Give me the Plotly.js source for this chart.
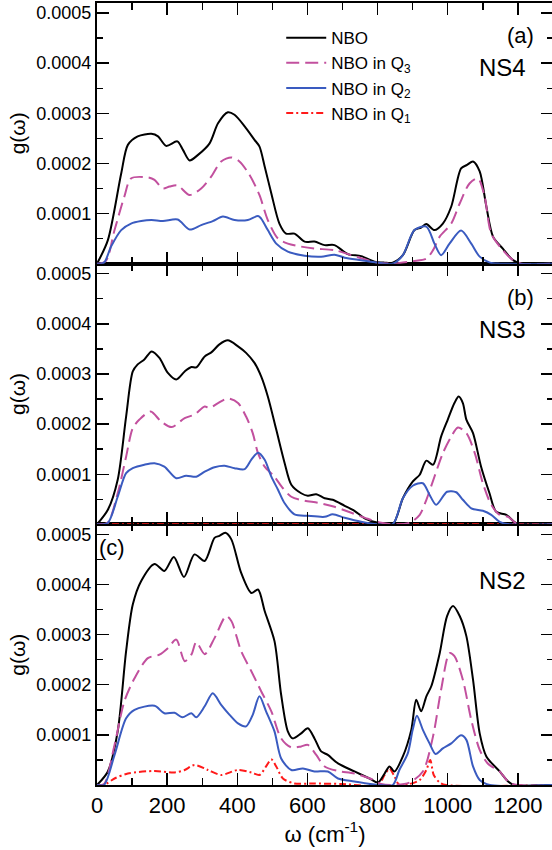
<!DOCTYPE html>
<html>
<head>
<meta charset="utf-8">
<script src="https://cdn.plot.ly/plotly-3.0.1.min.js"></script>
<style>
  html, body { margin: 0; padding: 0; overflow: hidden; background: #fff; }
  #chart { width: 555px; height: 850px; }
</style>
</head>
<body>
<div id="chart"></div>
<script>
// Vibrational density of states g(ω) of non-bridging oxygens (NBO),
// total and split by Q-species, for three glass compositions.

// ---- NS4 (panel a) ----
const ns4_nbo_w = [0, 31, 69, 88, 116, 155, 174, 197, 229, 245, 264, 288, 321, 345, 373, 392, 421, 449, 463, 478, 497, 520, 539, 563, 592, 620, 649, 677, 715, 753, 791, 820, 843, 872, 905, 924, 939, 962, 986, 1010, 1038, 1055, 1072, 1091, 1110, 1129, 1157, 1186, 1210, 1300];
const ns4_nbo_g = [0, 0.47e-4, 1.8e-4, 2.37e-4, 2.54e-4, 2.59e-4, 2.54e-4, 2.35e-4, 2.44e-4, 2.27e-4, 2.06e-4, 2.17e-4, 2.4e-4, 2.8e-4, 3.02e-4, 2.97e-4, 2.74e-4, 2.47e-4, 2.34e-4, 1.94e-4, 1.4e-4, 0.8e-4, 0.6e-4, 0.6e-4, 0.44e-4, 0.44e-4, 0.37e-4, 0.37e-4, 0.19e-4, 0.15e-4, 0.04e-4, 0.02e-4, 0.02e-4, 0.17e-4, 0.67e-4, 0.72e-4, 0.79e-4, 0.67e-4, 0.8e-4, 1.14e-4, 1.9e-4, 1.97e-4, 2.04e-4, 1.84e-4, 1.14e-4, 0.54e-4, 0.3e-4, 0.07e-4, 0, 0];
const ns4_q3_w = [0, 25, 50, 78, 97, 145, 164, 188, 207, 230, 264, 297, 326, 354, 383, 406, 435, 463, 487, 516, 544, 582, 620, 677, 725, 772, 800, 843, 900, 939, 958, 977, 1010, 1034, 1062, 1086, 1105, 1124, 1157, 1186, 1210, 1300];
const ns4_q3_g = [0, 0.05e-4, 0.67e-4, 1.34e-4, 1.7e-4, 1.72e-4, 1.67e-4, 1.5e-4, 1.54e-4, 1.56e-4, 1.37e-4, 1.5e-4, 1.74e-4, 2.04e-4, 2.12e-4, 2.04e-4, 1.77e-4, 1.37e-4, 0.87e-4, 0.5e-4, 0.4e-4, 0.34e-4, 0.3e-4, 0.27e-4, 0.17e-4, 0.07e-4, 0.02e-4, 0, 0.05e-4, 0.1e-4, 0.27e-4, 0.54e-4, 0.8e-4, 1.2e-4, 1.6e-4, 1.7e-4, 1.34e-4, 0.6e-4, 0.27e-4, 0.07e-4, 0, 0];
const ns4_q2_w = [0, 20, 40, 69, 97, 126, 155, 188, 230, 264, 297, 330, 359, 392, 430, 459, 468, 487, 511, 544, 592, 639, 677, 706, 753, 791, 843, 872, 905, 939, 962, 981, 1005, 1038, 1067, 1091, 1120, 1150, 1300];
const ns4_q2_g = [0, 0.02e-4, 0.34e-4, 0.67e-4, 0.8e-4, 0.85e-4, 0.87e-4, 0.85e-4, 0.88e-4, 0.68e-4, 0.77e-4, 0.85e-4, 0.94e-4, 0.87e-4, 0.87e-4, 0.95e-4, 0.9e-4, 0.67e-4, 0.4e-4, 0.24e-4, 0.16e-4, 0.14e-4, 0.18e-4, 0.12e-4, 0.07e-4, 0.03e-4, 0, 0.17e-4, 0.67e-4, 0.74e-4, 0.4e-4, 0.17e-4, 0.4e-4, 0.66e-4, 0.4e-4, 0.14e-4, 0.02e-4, 0, 0];

// ---- NS3 (panel b) ----
const ns3_nbo_w = [0, 31, 59, 83, 102, 116, 135, 156, 178, 202, 226, 250, 269, 283, 307, 326, 349, 373, 402, 425, 449, 468, 487, 511, 535, 554, 582, 601, 625, 649, 672, 706, 734, 763, 801, 843, 872, 900, 920, 939, 958, 981, 1000, 1019, 1031, 1043, 1053, 1072, 1095, 1119, 1138, 1167, 1200, 1300];
const ns3_nbo_g = [0, 0.29e-4, 0.89e-4, 2.15e-4, 3.05e-4, 3.19e-4, 3.29e-4, 3.45e-4, 3.32e-4, 3.02e-4, 2.89e-4, 3.05e-4, 3.14e-4, 3.13e-4, 3.35e-4, 3.43e-4, 3.59e-4, 3.67e-4, 3.55e-4, 3.42e-4, 3.22e-4, 2.95e-4, 2.55e-4, 1.89e-4, 1.22e-4, 0.79e-4, 0.62e-4, 0.57e-4, 0.6e-4, 0.52e-4, 0.49e-4, 0.37e-4, 0.27e-4, 0.12e-4, 0.03e-4, 0, 0.52e-4, 0.85e-4, 0.99e-4, 1.27e-4, 1.19e-4, 1.75e-4, 2.09e-4, 2.42e-4, 2.55e-4, 2.42e-4, 2.09e-4, 1.82e-4, 1.15e-4, 0.62e-4, 0.25e-4, 0.19e-4, 0, 0];
const ns3_q3_w = [0, 30, 59, 83, 102, 121, 153, 183, 213, 250, 278, 307, 321, 345, 373, 402, 425, 444, 459, 478, 506, 530, 554, 592, 630, 677, 725, 772, 810, 843, 891, 920, 939, 962, 986, 1010, 1029, 1053, 1077, 1100, 1124, 1148, 1172, 1200, 1300];
const ns3_q3_g = [0, 0.03e-4, 0.62e-4, 1.35e-4, 1.92e-4, 2.09e-4, 2.25e-4, 2.05e-4, 1.94e-4, 2.12e-4, 2.19e-4, 2.35e-4, 2.32e-4, 2.42e-4, 2.51e-4, 2.42e-4, 2.15e-4, 1.82e-4, 1.42e-4, 1.15e-4, 0.95e-4, 0.72e-4, 0.55e-4, 0.47e-4, 0.43e-4, 0.35e-4, 0.23e-4, 0.11e-4, 0.03e-4, 0, 0.03e-4, 0.19e-4, 0.49e-4, 0.95e-4, 1.42e-4, 1.75e-4, 1.93e-4, 1.82e-4, 1.42e-4, 0.82e-4, 0.39e-4, 0.19e-4, 0.15e-4, 0, 0];
const ns3_q2_w = [0, 30, 59, 83, 102, 135, 164, 192, 226, 254, 283, 307, 335, 364, 392, 421, 440, 459, 478, 497, 516, 535, 563, 601, 649, 672, 706, 753, 800, 843, 872, 900, 929, 948, 967, 998, 1024, 1043, 1067, 1100, 1124, 1148, 1175, 1300];
const ns3_q2_g = [0, 0.02e-4, 0.55e-4, 1.02e-4, 1.12e-4, 1.19e-4, 1.22e-4, 1.15e-4, 0.92e-4, 0.97e-4, 0.95e-4, 1.05e-4, 1.14e-4, 1.17e-4, 1.12e-4, 1.1e-4, 1.29e-4, 1.43e-4, 1.29e-4, 0.95e-4, 0.69e-4, 0.42e-4, 0.2e-4, 0.17e-4, 0.15e-4, 0.2e-4, 0.13e-4, 0.05e-4, 0, 0, 0.52e-4, 0.77e-4, 0.82e-4, 0.59e-4, 0.39e-4, 0.65e-4, 0.64e-4, 0.49e-4, 0.32e-4, 0.27e-4, 0.19e-4, 0.05e-4, 0, 0];
const ns3_q1_w = [0, 1300];
const ns3_q1_g = [0, 0];

// ---- NS2 (panel c) ----
const ns2_nbo_w = [0, 31, 59, 83, 102, 126, 164, 192, 219, 248, 278, 307, 335, 349, 366, 383, 411, 440, 459, 478, 506, 525, 544, 558, 582, 601, 620, 639, 658, 687, 734, 777, 801, 820, 834, 848, 872, 896, 910, 924, 939, 953, 977, 998, 1015, 1034, 1053, 1072, 1091, 1110, 1148, 1172, 1190, 1300];
const ns2_nbo_g = [0, 0.27e-4, 1.07e-4, 2.67e-4, 3.6e-4, 4.07e-4, 4.41e-4, 4.27e-4, 4.55e-4, 4.15e-4, 4.6e-4, 4.47e-4, 4.93e-4, 4.97e-4, 5.03e-4, 4.9e-4, 4.23e-4, 3.83e-4, 3.9e-4, 3.47e-4, 2.87e-4, 1.8e-4, 1.07e-4, 0.93e-4, 1.03e-4, 1.13e-4, 0.93e-4, 0.67e-4, 0.6e-4, 0.43e-4, 0.27e-4, 0.13e-4, 0.05e-4, 0.23e-4, 0.37e-4, 0.27e-4, 0.57e-4, 1.1e-4, 1.7e-4, 1.47e-4, 1.77e-4, 1.97e-4, 2.63e-4, 3.37e-4, 3.57e-4, 3.37e-4, 2.97e-4, 2.1e-4, 1.03e-4, 0.57e-4, 0.27e-4, 0.07e-4, 0, 0];
const ns2_q3_w = [0, 20, 50, 78, 107, 145, 178, 202, 226, 250, 269, 283, 307, 335, 368, 383, 411, 440, 468, 497, 525, 554, 582, 601, 625, 649, 687, 734, 782, 810, 843, 891, 929, 958, 981, 1005, 1019, 1043, 1067, 1091, 1114, 1148, 1180, 1300];
const ns2_q3_g = [0, 0.02e-4, 0.8e-4, 1.67e-4, 2.13e-4, 2.53e-4, 2.6e-4, 2.73e-4, 2.9e-4, 2.47e-4, 2.6e-4, 2.85e-4, 2.61e-4, 2.93e-4, 3.37e-4, 3.27e-4, 2.67e-4, 2.27e-4, 1.87e-4, 1.47e-4, 0.93e-4, 0.75e-4, 0.77e-4, 0.8e-4, 0.6e-4, 0.37e-4, 0.28e-4, 0.23e-4, 0.12e-4, 0.02e-4, 0, 0.05e-4, 0.27e-4, 0.97e-4, 1.9e-4, 2.63e-4, 2.57e-4, 2.1e-4, 1.3e-4, 0.7e-4, 0.43e-4, 0.27e-4, 0.03e-4, 0];
const ns2_q2_w = [0, 20, 50, 83, 107, 164, 192, 221, 243, 269, 283, 307, 330, 354, 378, 402, 425, 444, 463, 482, 506, 525, 554, 587, 620, 658, 687, 734, 800, 843, 862, 886, 900, 912, 929, 948, 965, 986, 1010, 1038, 1053, 1072, 1091, 1120, 1300];
const ns2_q2_g = [0, 0, 0.6e-4, 1.33e-4, 1.5e-4, 1.58e-4, 1.43e-4, 1.44e-4, 1.35e-4, 1.43e-4, 1.35e-4, 1.57e-4, 1.83e-4, 1.6e-4, 1.4e-4, 1.23e-4, 1.17e-4, 1.4e-4, 1.77e-4, 1.47e-4, 1.07e-4, 0.53e-4, 0.3e-4, 0.33e-4, 0.27e-4, 0.27e-4, 0.13e-4, 0.07e-4, 0, 0, 0.3e-4, 0.63e-4, 1.1e-4, 1.38e-4, 1.1e-4, 0.83e-4, 0.62e-4, 0.73e-4, 0.83e-4, 0.99e-4, 0.9e-4, 0.37e-4, 0.1e-4, 0, 0];
const ns2_q1_w = [0, 20, 50, 88, 164, 221, 250, 278, 316, 354, 402, 440, 463, 482, 497, 511, 530, 563, 611, 700, 801, 820, 834, 848, 862, 891, 920, 939, 950, 960, 977, 995, 1300];
const ns2_q1_g = [0, 0, 0.13e-4, 0.23e-4, 0.28e-4, 0.25e-4, 0.3e-4, 0.4e-4, 0.3e-4, 0.2e-4, 0.3e-4, 0.25e-4, 0.2e-4, 0.37e-4, 0.51e-4, 0.37e-4, 0.13e-4, 0.03e-4, 0.03e-4, 0.02e-4, 0, 0.2e-4, 0.33e-4, 0.17e-4, 0, 0.02e-4, 0.1e-4, 0.3e-4, 0.5e-4, 0.2e-4, 0.05e-4, 0, 0];

// Legend names
const nameNBO = 'NBO';
const nameQ3 = 'NBO in Q<sub>3</sub>';
const nameQ2 = 'NBO in Q<sub>2</sub>';
const nameQ1 = 'NBO in Q<sub>1</sub>';

// Series styles
const STY = {
  nbo: { color: '#000000', width: 2, dash: 'solid' },
  q3:  { color: '#c2509e', width: 2, dash: '13px,6px' },
  q2:  { color: '#3a5bc0', width: 2, dash: 'solid' },
  q1:  { color: '#ff1a1a', width: 2, dash: '7px,3px,2px,3px' }
};

function trace(w, g, sty, name, axisSuffix, showlegend, group) {
  return {
    x: w, y: g, type: 'scatter', mode: 'lines',
    name: name, legendgroup: group, showlegend: showlegend,
    xaxis: 'x' + axisSuffix, yaxis: 'y' + axisSuffix,
    line: { color: sty.color, width: sty.width, dash: sty.dash, shape: 'spline', smoothing: 0.8 },
    hoverinfo: 'skip'
  };
}

// panel a -> axis "3" (top), panel b -> "2" (middle), panel c -> "" (bottom)
const data = [
  trace(ns4_nbo_w, ns4_nbo_g, STY.nbo, nameNBO, '3', true, 'nbo'),
  trace(ns4_q3_w, ns4_q3_g, STY.q3, nameQ3, '3', true, 'q3'),
  trace(ns4_q2_w, ns4_q2_g, STY.q2, nameQ2, '3', true, 'q2'),
  trace(ns3_q1_w, ns3_q1_g, STY.q1, nameQ1, '2', true, 'q1'),
  trace(ns3_nbo_w, ns3_nbo_g, STY.nbo, nameNBO, '2', false, 'nbo'),
  trace(ns3_q3_w, ns3_q3_g, STY.q3, nameQ3, '2', false, 'q3'),
  trace(ns3_q2_w, ns3_q2_g, STY.q2, nameQ2, '2', false, 'q2'),
  trace(ns2_q1_w, ns2_q1_g, STY.q1, nameQ1, '', false, 'q1'),
  trace(ns2_nbo_w, ns2_nbo_g, STY.nbo, nameNBO, '', false, 'nbo'),
  trace(ns2_q3_w, ns2_q3_g, STY.q3, nameQ3, '', false, 'q3'),
  trace(ns2_q2_w, ns2_q2_g, STY.q2, nameQ2, '', false, 'q2')
];

const FONT = 'Liberation Sans, Arial, Helvetica, sans-serif';
const yTickVals = [0.0001, 0.0002, 0.0003, 0.0004, 0.0005];
const yTickText = ['0.0001', '0.0002', '0.0003', '0.0004', '0.0005'];

function xAxis(anchor, labels) {
  return {
    anchor: anchor, range: [0, 1300], tick0: 0, dtick: 200,
    ticks: 'inside', ticklen: 12, tickwidth: 1.4, tickcolor: '#000',
    minor: { dtick: 100, tick0: 0, ticks: 'inside', ticklen: 7, tickwidth: 1.4, tickcolor: '#000' },
    showline: true, linewidth: 2, linecolor: '#000', mirror: 'ticks',
    showgrid: false, zeroline: false, showticklabels: labels,
    tickfont: { family: FONT, size: 22, color: '#000' },
    matches: anchor === 'y' ? undefined : 'x'
  };
}
function yAxis(domain, anchor) {
  return {
    anchor: anchor, domain: domain, range: [0, 0.00052],
    tickmode: 'array', tickvals: yTickVals, ticktext: yTickText,
    ticks: 'inside', ticklen: 12, tickwidth: 1.4, tickcolor: '#000',
    minor: { dtick: 0.00005, tick0: 0, ticks: 'inside', ticklen: 6, tickwidth: 1.4, tickcolor: '#000' },
    showline: true, linewidth: 2, linecolor: '#000', mirror: 'ticks',
    showgrid: false, zeroline: false,
    tickfont: { family: FONT, size: 18, color: '#000' },
    title: { text: 'g(ω)', font: { family: FONT, size: 21, color: '#000' }, standoff: 5 }
  };
}

const xa = xAxis('y', true);
xa.ticklabelstandoff = 0;
xa.title = { text: 'ω (cm<sup>-1</sup>)', font: { family: FONT, size: 22, color: '#000' }, standoff: 2 };

const layout = {
  width: 555, height: 850,
  margin: { l: 97, r: 2, t: 3, b: 65 },
  paper_bgcolor: '#fff', plot_bgcolor: '#fff',
  font: { family: FONT, color: '#000' },
  xaxis: xa,
  xaxis2: xAxis('y2', false),
  xaxis3: xAxis('y3', false),
  yaxis: yAxis([0, 1 / 3], 'x'),
  yaxis2: yAxis([1 / 3, 2 / 3], 'x2'),
  yaxis3: yAxis([2 / 3, 1], 'x3'),
  showlegend: true,
  legend: {
    x: 0.404, y: 0.978, xanchor: 'left', yanchor: 'top',
    bgcolor: 'rgba(0,0,0,0)', borderwidth: 0,
    font: { family: FONT, size: 17, color: '#000' },
    itemwidth: 40, tracegroupgap: 0
  },
  annotations: [
    { text: '(a)', xref: 'x3 domain', yref: 'y3 domain', x: 0.928, y: 0.874, showarrow: false, xanchor: 'center', yanchor: 'middle', font: { family: FONT, size: 22, color: '#000' } },
    { text: 'NS4', xref: 'x3 domain', yref: 'y3 domain', x: 0.890, y: 0.751, showarrow: false, xanchor: 'center', yanchor: 'middle', font: { family: FONT, size: 24, color: '#000' } },
    { text: '(b)', xref: 'x2 domain', yref: 'y2 domain', x: 0.928, y: 0.872, showarrow: false, xanchor: 'center', yanchor: 'middle', font: { family: FONT, size: 22, color: '#000' } },
    { text: 'NS3', xref: 'x2 domain', yref: 'y2 domain', x: 0.890, y: 0.749, showarrow: false, xanchor: 'center', yanchor: 'middle', font: { family: FONT, size: 24, color: '#000' } },
    { text: '(c)', xref: 'x domain', yref: 'y domain', x: 0.033, y: 0.910, showarrow: false, xanchor: 'center', yanchor: 'middle', font: { family: FONT, size: 22, color: '#000' } },
    { text: 'NS2', xref: 'x domain', yref: 'y domain', x: 0.890, y: 0.784, showarrow: false, xanchor: 'center', yanchor: 'middle', font: { family: FONT, size: 24, color: '#000' } }
  ]
};

Plotly.newPlot('chart', data, layout, { staticPlot: true, displayModeBar: false });
</script>
</body>
</html>
